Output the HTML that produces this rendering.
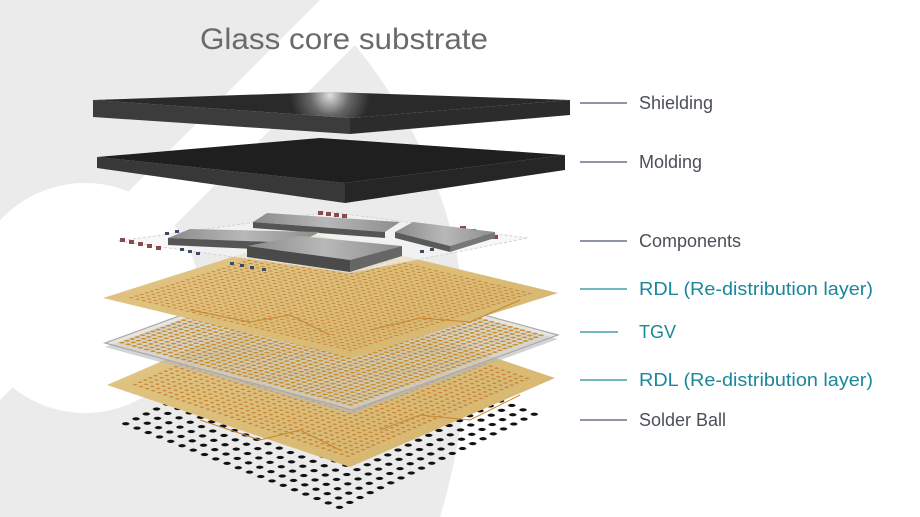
<!DOCTYPE html>
<html><head><meta charset="utf-8"><style>
html,body{margin:0;padding:0;background:#fff;}
svg{display:block;}
text{font-family:"Liberation Sans",sans-serif;}
</style></head><body>
<svg width="920" height="517" viewBox="0 0 920 517" xmlns="http://www.w3.org/2000/svg">
<defs>
<pattern id="solder" patternUnits="userSpaceOnUse" width="1" height="1"><circle cx="0.5" cy="0.5" r="0.24" fill="#111"/></pattern>
<pattern id="gdots" patternUnits="userSpaceOnUse" width="0.5" height="0.5"><circle cx="0.25" cy="0.25" r="0.13" fill="#c47a2c" opacity="0.8"/></pattern>
<pattern id="tdots" patternUnits="userSpaceOnUse" width="0.5" height="0.5"><circle cx="0.25" cy="0.25" r="0.17" fill="#c9922e"/></pattern>
<linearGradient id="gold" x1="0" y1="0" x2="1" y2="1"><stop offset="0" stop-color="#e3c887"/><stop offset="1" stop-color="#d5b46c"/></linearGradient>
<radialGradient id="shine" cx="330" cy="95" r="40" gradientUnits="userSpaceOnUse"><stop offset="0" stop-color="#e0e0e0"/><stop offset="0.5" stop-color="#666"/><stop offset="1" stop-color="#2a2a2a"/></radialGradient>
<linearGradient id="chip" x1="0" y1="0" x2="1" y2="0"><stop offset="0" stop-color="#8a8a8a"/><stop offset="0.5" stop-color="#b8b8b8"/><stop offset="1" stop-color="#8c8c8c"/></linearGradient>
</defs>
<polygon points="0,0 320,0 0,320" fill="#ebebeb"/>
<path d="M355,45 Q520,250 440,517 L0,517 L0,400 Z" fill="#ebebeb"/>
<circle cx="85" cy="298" r="115" fill="#fff"/>

<text x="200" y="49" font-size="30" fill="#6a6a6a" textLength="288" lengthAdjust="spacingAndGlyphs">Glass core substrate</text>

<g transform="matrix(11.25,4.4,10.25,-4.9,115,424)"><rect x="0" y="0" width="20" height="20" fill="url(#solder)"/></g>

<polygon points="107,385 350,467 555,378 312,296" fill="url(#gold)"/>
<g transform="matrix(12.15,4.1,10.25,-4.45,107,385)"><rect x="1" y="1" width="18" height="18" fill="url(#gdots)"/></g>
<polyline points="200,420 260,440 300,430 340,450" fill="none" stroke="#c8842f" stroke-width="1"/>
<polyline points="380,430 420,415 470,420 520,395" fill="none" stroke="#c8842f" stroke-width="1"/>

<polygon points="105,347 352,414 558,339 311,272" fill="#b8b8b8" opacity="0.6"/>
<polygon points="105,343 352,410 558,335 311,268" fill="#d8d4cc" fill-opacity="0.6" stroke="#aaa" stroke-width="1.2"/>
<g transform="matrix(12.35,3.35,10.3,-3.75,105,343)"><rect x="0.5" y="0.5" width="19" height="19" fill="url(#tdots)"/></g>

<polygon points="103,298 353,358 558,293 308,233" fill="url(#gold)"/>
<g transform="matrix(12.5,3,10.25,-3.25,103,298)"><rect x="1" y="1" width="18" height="18" fill="url(#gdots)"/></g>
<polyline points="190,310 250,322 290,315 330,335" fill="none" stroke="#c8842f" stroke-width="1"/>
<polyline points="370,330 420,318 470,322 520,300" fill="none" stroke="#c8842f" stroke-width="1"/>

<polygon points="118,241 330,212 528,238 350,273" fill="#f3f3f3" fill-opacity="0.7" stroke="#ccc" stroke-dasharray="3,2" stroke-width="0.8"/>
<g fill="#8a4a4a">
<rect x="120" y="238" width="5" height="4"/><rect x="129" y="240" width="5" height="4"/><rect x="138" y="242" width="5" height="4"/><rect x="147" y="244" width="5" height="4"/><rect x="156" y="246" width="5" height="4"/>
<rect x="318" y="211" width="5" height="4"/><rect x="326" y="212" width="5" height="4"/><rect x="334" y="213" width="5" height="4"/><rect x="342" y="214" width="5" height="4"/>
<rect x="460" y="226" width="6" height="4"/><rect x="470" y="229" width="6" height="4"/><rect x="480" y="232" width="6" height="4"/><rect x="492" y="235" width="6" height="4"/>
<rect x="335" y="265" width="7" height="5"/><rect x="346" y="262" width="7" height="5"/><rect x="357" y="259" width="7" height="5"/><rect x="368" y="256" width="7" height="5"/><rect x="379" y="253" width="7" height="5"/>
</g>
<g fill="#3d4a66">
<rect x="180" y="248" width="4" height="3"/><rect x="188" y="250" width="4" height="3"/><rect x="196" y="252" width="4" height="3"/><rect x="230" y="262" width="4" height="3"/><rect x="240" y="264" width="4" height="3"/><rect x="250" y="266" width="4" height="3"/><rect x="262" y="268" width="4" height="3"/><rect x="420" y="250" width="4" height="3"/><rect x="430" y="248" width="4" height="3"/><rect x="440" y="246" width="4" height="3"/><rect x="165" y="232" width="4" height="3"/><rect x="175" y="230" width="4" height="3"/>
</g>
<polygon points="253,222 267,213 400,222 385,232" fill="url(#chip)"/>
<polygon points="253,222 385,232 385,238 253,228" fill="#555"/>
<polygon points="395,232 413,222 495,232 450,246" fill="url(#chip)"/>
<polygon points="395,232 450,246 450,252 395,238" fill="#5a5a5a"/><polygon points="450,246 495,232 495,238 450,252" fill="#777"/>
<polygon points="168,238 190,229 320,232 298,243" fill="url(#chip)"/>
<polygon points="168,238 298,243 298,251 168,245" fill="#555"/>
<polygon points="247,246 300,236 402,246 350,260" fill="url(#chip)"/>
<polygon points="247,246 350,260 350,272 247,257" fill="#4a4a4a"/><polygon points="350,260 402,246 402,256 350,272" fill="#666"/>

<polygon points="97,157 345,183 345,203 97,168" fill="#383838"/>
<polygon points="345,183 565,155 565,170 345,203" fill="#262626"/>
<polygon points="97,157 320,138 565,155 345,183" fill="#1f1f1f"/>

<polygon points="93,100 350,118 350,134 93,117" fill="#3c3c3c"/>
<polygon points="350,118 570,100 570,115 350,134" fill="#2c2c2c"/>
<polygon points="93,100 330,92 570,100 350,118" fill="url(#shine)"/>

<g stroke-width="1.2">
<line x1="580" y1="103" x2="627" y2="103" stroke="#4a5670"/>
<line x1="580" y1="162" x2="627" y2="162" stroke="#4a5670"/>
<line x1="580" y1="241" x2="627" y2="241" stroke="#4a5670"/>
<line x1="580" y1="289" x2="627" y2="289" stroke="#1d8ba0"/>
<line x1="580" y1="332" x2="618" y2="332" stroke="#1d8ba0"/>
<line x1="580" y1="380" x2="627" y2="380" stroke="#1d8ba0"/>
<line x1="580" y1="420" x2="627" y2="420" stroke="#4a5670"/>
</g>
<g font-size="18">
<text x="639" y="109" fill="#4a4f58">Shielding</text>
<text x="639" y="168" fill="#4a4f58">Molding</text>
<text x="639" y="247" fill="#4a4f58">Components</text>
<text x="639" y="295" fill="#1a879c" textLength="234" lengthAdjust="spacingAndGlyphs">RDL (Re-distribution layer)</text>
<text x="639" y="338" fill="#1a879c">TGV</text>
<text x="639" y="386" fill="#1a879c" textLength="234" lengthAdjust="spacingAndGlyphs">RDL (Re-distribution layer)</text>
<text x="639" y="426" fill="#4a4f58">Solder Ball</text>
</g>
</svg>
</body></html>
